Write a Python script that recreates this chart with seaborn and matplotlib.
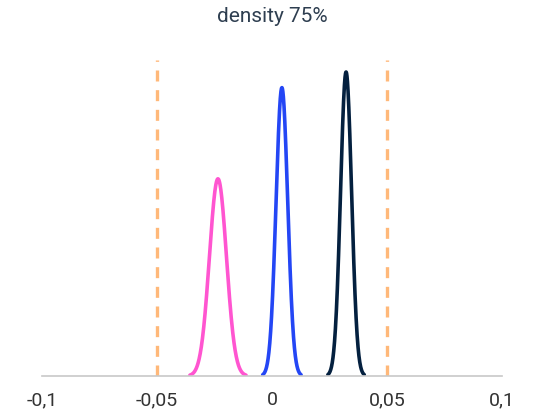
import numpy as np
import pandas as pd
import matplotlib
matplotlib.use("Agg")
import matplotlib.pyplot as plt
import seaborn as sns

# Data
series = ["A", "B", "C"]
means = [-0.0235, 0.0043, 0.0322]
sds = [0.0037, 0.00253, 0.0024]
colors = ["#FF55D0", "#2446F5", "#04203F"]
bounds = [-0.05, 0.05]
xticks = [-0.1, -0.05, 0.0, 0.05, 0.1]
xtick_labels = ["-0,1", "-0,05", "0", "0,05", "0,1"]
title = "density 75%"

sns.set_theme(style="white")
plt.rcParams['font.family'] = ['Roboto', 'DejaVu Sans']

rows = []
for name, m, s in zip(series, means, sds):
    xs = np.linspace(m - 3.3 * s, m + 3.3 * s, 300)
    ys = np.exp(-0.5 * ((xs - m) / s) ** 2) / (s * np.sqrt(2 * np.pi))
    rows.append(pd.DataFrame({"x": xs, "density": ys, "series": name}))
df = pd.concat(rows)

fig = plt.figure(figsize=(5.47, 4.12), dpi=100)
ax = fig.add_axes([42 / 547, 36 / 412, 460 / 547, 316 / 412])

sns.lineplot(data=df, x="x", y="density", hue="series", palette=colors,
             linewidth=2.6, legend=False, ax=ax, sort=False)

for b in bounds:
    ax.axvline(b, color="#FFB879", linewidth=2.4, dashes=(3.3, 2.6))

peak = max(1 / (s * np.sqrt(2 * np.pi)) for s in sds)
ax.set_ylim(0, peak * 316 / 304)
ax.set_xlim(-0.1, 0.1)
ax.set_xticks(xticks)
ax.set_xticklabels(xtick_labels, fontsize=14, color="#333333")
ax.set_yticks([])
ax.set_xlabel("")
ax.set_ylabel("")
for sp in ["top", "right", "left"]:
    ax.spines[sp].set_visible(False)
ax.spines["bottom"].set_color("#C8C8C8")
ax.spines["bottom"].set_linewidth(1.2)
ax.tick_params(axis="x", length=0, pad=11)

fig.text(272 / 547, 1 - 17 / 412, title, ha="center", va="center",
         fontsize=15, color="#2E3E50")

fig.savefig("out.png", dpi=100)
